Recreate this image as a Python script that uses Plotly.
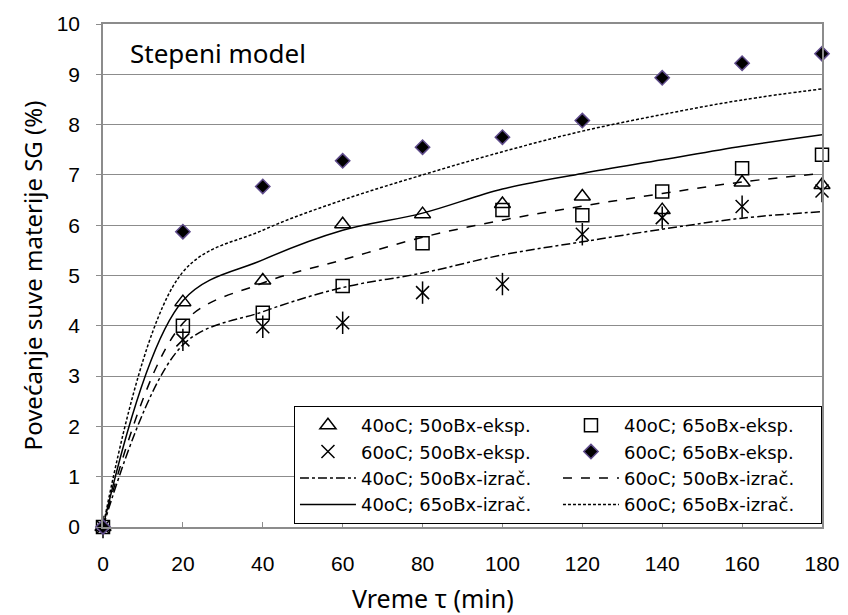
import plotly.graph_objects as go

# time (min)
t = [0, 20, 40, 60, 80, 100, 120, 140, 160, 180]

# experimental values (%)
exp_40_50 = [0, 4.47, 4.90, 6.02, 6.22, 6.42, 6.57, 6.30, 6.85, 6.80]
exp_40_65 = [0, 4.00, 4.26, 4.79, 5.64, 6.30, 6.20, 6.67, 7.13, 7.40]
exp_60_50 = [0, 3.72, 3.98, 4.06, 4.66, 4.83, 5.82, 6.15, 6.37, 6.68]
exp_60_65 = [0, 5.87, 6.77, 7.28, 7.55, 7.75, 8.08, 8.93, 9.22, 9.41]

# calculated (power model) values (%)
calc_40_50 = [0, 3.62, 4.28, 4.76, 5.05, 5.41, 5.67, 5.92, 6.14, 6.27]
calc_60_50 = [0, 4.05, 4.85, 5.31, 5.76, 6.10, 6.38, 6.63, 6.86, 7.03]
calc_40_65 = [0, 4.50, 5.31, 5.90, 6.24, 6.72, 7.03, 7.30, 7.57, 7.80]
calc_60_65 = [0, 5.07, 5.90, 6.50, 7.00, 7.46, 7.87, 8.20, 8.49, 8.71]

names = {
    "e4050": "40oC; 50oBx-eksp.",
    "e4065": "40oC; 65oBx-eksp.",
    "e6050": "60oC; 50oBx-eksp.",
    "e6065": "60oC; 65oBx-eksp.",
    "c4050": "40oC; 50oBx-izrač.",
    "c6050": "60oC; 50oBx-izrač.",
    "c4065": "40oC; 65oBx-izrač.",
    "c6065": "60oC; 65oBx-izrač.",
}

fig = go.Figure()

def lines(y, name, dash, rank):
    fig.add_trace(go.Scatter(
        x=t, y=y, name=name, mode="lines", legendrank=rank,
        line=dict(color="black", width=1.5, dash=dash, shape="spline", smoothing=1.0),
        cliponaxis=False))

lines(calc_40_50, names["c4050"], "dashdot", 5)
lines(calc_60_50, names["c6050"], "dash", 6)
lines(calc_40_65, names["c4065"], "solid", 7)
lines(calc_60_65, names["c6065"], "3px,2px", 8)

def markers(y, name, symbol, size, rank, color="black", lcol="black", lw=1.5, show=True):
    fig.add_trace(go.Scatter(
        x=t, y=y, name=name, mode="markers", legendrank=rank, showlegend=show,
        marker=dict(symbol=symbol, size=size, color=color,
                    line=dict(color=lcol, width=lw)),
        cliponaxis=False))

markers(exp_40_50, names["e4050"], "triangle-up-open", 14, 1)
markers(exp_40_65, names["e4065"], "square-open", 13, 2)
markers(exp_60_50, names["e6050"], "x-thin-open", 13, 3)
markers(exp_60_50, names["e6050"], "line-ns-open", 16, 3, show=False)
markers(exp_60_65, names["e6065"], "diamond", 11, 4, color="black", lcol="#5f4b8b", lw=1.5)

fig.add_annotation(x=0.035, y=0.942, xref="paper", yref="paper",
                   text="Stepeni model", showarrow=False,
                   xanchor="left", yanchor="middle",
                   font=dict(family="Noto Sans", size=26, color="black"))

# x-axis title (placed like the original, slightly left of centre)
fig.add_annotation(x=0.459, y=-0.141, xref="paper", yref="paper",
                   text="Vreme τ (min)", showarrow=False,
                   xanchor="center", yanchor="middle",
                   font=dict(family="Noto Sans", size=25, color="black"))

grid = "#8c8c8c"
fig.update_layout(
    width=848, height=615,
    margin=dict(l=103, r=26, t=24, b=88, autoexpand=False),
    paper_bgcolor="white", plot_bgcolor="white",
    font=dict(family="Liberation Sans", color="black"),
    showlegend=True,
    legend=dict(
        orientation="h", x=0.2656, y=0.2406, xanchor="left", yanchor="top",
        entrywidth=192, entrywidthmode="pixels", itemwidth=56,
        bgcolor="white", bordercolor="black", borderwidth=1,
        font=dict(family="DejaVu Sans", size=18, color="black"),
        traceorder="normal", tracegroupgap=0,
    ),
    xaxis=dict(
        range=[0, 180], dtick=20, tick0=0, showgrid=False, zeroline=False,
        showline=True, linecolor=grid, linewidth=1.5, mirror=True,
        ticks="inside", ticklen=5, tickcolor=grid,
        tickfont=dict(family="Liberation Sans", size=21, color="black"),
        ticklabelstandoff=17, automargin=False,
    ),
    yaxis=dict(
        range=[0, 10], dtick=1, tick0=0, showgrid=True, gridcolor=grid, gridwidth=1.2,
        zeroline=False, showline=True, linecolor=grid, linewidth=1.5, mirror=True,
        ticks="outside", ticklen=5, tickcolor=grid,
        tickfont=dict(family="Liberation Sans", size=21, color="black"),
        ticklabelstandoff=12, automargin=False,
        title=dict(text="Povećanje suve materije SG (%)", standoff=7,
                   font=dict(family="Noto Sans", size=24, color="black")),
    ),
)

fig.write_html("out.html")
